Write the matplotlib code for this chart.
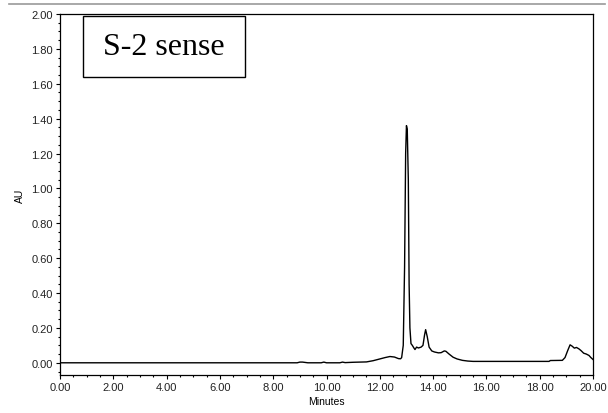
import matplotlib
matplotlib.use("Agg")
import matplotlib.pyplot as plt
from matplotlib.ticker import MultipleLocator, FormatStrFormatter
from matplotlib.lines import Line2D
from matplotlib.patches import Rectangle

# chromatogram trace (minutes, AU)
minutes = [0.0, 8.9, 9.0, 9.1, 9.3, 9.8, 9.9, 10.0, 10.5, 10.6, 10.7, 11.0, 11.5,
           11.75, 12.0, 12.2, 12.38, 12.55, 12.7, 12.78, 12.82, 12.88, 12.93,
           12.97, 13.00, 13.03, 13.07, 13.10, 13.13, 13.17, 13.22, 13.28, 13.32,
           13.38, 13.45, 13.55, 13.62, 13.68, 13.72, 13.78, 13.85, 13.95, 14.05,
           14.2, 14.3, 14.42, 14.48, 14.6, 14.75, 14.9, 15.1, 15.3, 15.5, 18.35,
           18.4, 18.85, 18.95, 19.05, 19.14, 19.22, 19.3, 19.38, 19.47, 19.55,
           19.65, 19.75, 19.85, 19.92, 20.0]
au = [0.0, 0.0, 0.004, 0.004, 0.0, 0.0, 0.004, 0.0, 0.0, 0.004, 0.001, 0.003, 0.005,
      0.012, 0.022, 0.03, 0.036, 0.033, 0.024, 0.023, 0.03, 0.10, 0.55,
      1.20, 1.36, 1.34, 1.05, 0.45, 0.20, 0.11, 0.10, 0.085, 0.076,
      0.09, 0.085, 0.09, 0.10, 0.16, 0.19, 0.15, 0.09, 0.068, 0.062,
      0.057, 0.058, 0.068, 0.066, 0.05, 0.032, 0.022, 0.014, 0.01, 0.008, 0.008,
      0.013, 0.014, 0.03, 0.07, 0.103, 0.095, 0.084, 0.088, 0.08, 0.07,
      0.055, 0.05, 0.042, 0.03, 0.019]

x_ticks = [0, 2, 4, 6, 8, 10, 12, 14, 16, 18, 20]
y_ticks = [0.0, 0.2, 0.4, 0.6, 0.8, 1.0, 1.2, 1.4, 1.6, 1.8, 2.0]
label = "S-2 sense"

plt.rcParams['font.family'] = ['Liberation Sans', 'DejaVu Sans']

fig = plt.figure(figsize=(6.08, 4.14), dpi=100)
ax = fig.add_axes([60 / 608, 38 / 414, 533 / 608, 361 / 414])

ax.plot(minutes, au, color='black', lw=1.0)

ax.set_xlim(0, 20)
ax.set_ylim(-0.07, 2.0)
ax.set_xticks(x_ticks)
ax.set_yticks(y_ticks)
ax.xaxis.set_minor_locator(MultipleLocator(0.5))
ax.yaxis.set_minor_locator(MultipleLocator(0.05))
ax.xaxis.set_major_formatter(FormatStrFormatter('%.2f'))
ax.yaxis.set_major_formatter(FormatStrFormatter('%.2f'))
ax.tick_params(which='major', length=3, width=0.8, labelsize=8, pad=2,
               colors='black', labelcolor='#222222')
ax.tick_params(which='minor', length=1.5, width=0.8)
for s in ax.spines.values():
    s.set_linewidth(0.9)

ax.set_xlabel('Minutes', fontsize=7.5, labelpad=3)
ax.set_ylabel('AU', fontsize=7.5, labelpad=5)

# label box
ax.add_patch(Rectangle((0.043, 0.825), 0.304, 0.169, transform=ax.transAxes,
                       fc='white', ec='black', lw=1.0, zorder=3))
ax.text(0.195, 0.91, label, transform=ax.transAxes, ha='center', va='center',
        fontsize=23, family='Liberation Serif', zorder=4)

# screenshot frame line at the top
fig.add_artist(Line2D([0.015, 0.995], [0.988, 0.988], color='#999999', lw=1.2,
                      transform=fig.transFigure))

fig.savefig('out.png', dpi=100)
